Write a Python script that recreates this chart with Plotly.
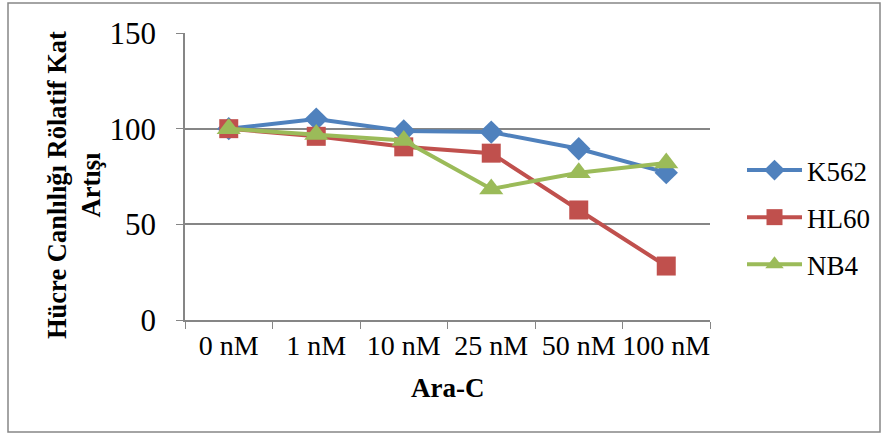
import plotly.graph_objects as go

categories = ["0 nM", "1 nM", "10 nM", "25 nM", "50 nM", "100 nM"]
k562 = [100, 105, 98.8, 98.2, 89.5, 77]
hl60 = [100, 96, 90.5, 87.2, 57.5, 28.2]
nb4 = [100, 97, 93.8, 68.5, 77, 82]
y_ticks = [0, 50, 100, 150]

FONT = "Liberation Serif"
fig = go.Figure()
fig.add_trace(go.Scatter(x=categories, y=k562, name="K562", mode="lines+markers", legendgroup="a",
                         line=dict(color="#4F81BD", width=4),
                         marker=dict(symbol="diamond", size=18, color="#4F81BD")))
fig.add_trace(go.Scatter(x=categories, y=hl60, name="HL60", mode="lines+markers", legendgroup="b",
                         line=dict(color="#C0504D", width=4),
                         marker=dict(symbol="square", size=19, color="#C0504D")))
fig.add_trace(go.Scatter(x=categories, y=nb4, name="NB4", mode="lines+markers", legendgroup="c",
                         line=dict(color="#9BBB59", width=4),
                         marker=dict(symbol="triangle-up", size=21, color="#9BBB59")))

L, R, T, B = 185, 177, 33, 119
W, H = 887, 439
pw, ph = W - L - R, H - T - B

def px(x):
    return (x - L) / pw

def py(y):
    return (H - B - y) / ph

fig.update_layout(
    width=W, height=H,
    margin=dict(l=L, r=R, t=T, b=B),
    paper_bgcolor="white", plot_bgcolor="white",
    font=dict(family=FONT, color="black"),
    showlegend=True,
    legend=dict(x=px(742), y=py(146), xanchor="left", yanchor="top",
                font=dict(size=27, family=FONT), bgcolor="rgba(0,0,0,0)",
                tracegroupgap=9, itemwidth=55),
    xaxis=dict(
        type="category", showgrid=False, showline=True, linecolor="#868686", linewidth=1.5,
        ticks="outside", tickson="boundaries", ticklen=7, tickcolor="#868686", tickangle=0,
        tickfont=dict(size=28, family=FONT), range=[-0.5, 5.5],
    ),
    yaxis=dict(
        range=[0, 150], tickvals=y_ticks, showgrid=True, gridcolor="#868686", gridwidth=1.5,
        showline=True, linecolor="#868686", linewidth=1.5, ticks="outside", ticklen=7,
        tickcolor="#868686", tickfont=dict(size=31, family=FONT), ticklabelstandoff=14,
        zeroline=False,
    ),
    shapes=[dict(type="rect", xref="paper", yref="paper",
                 x0=px(8), x1=px(880), y0=py(432), y1=py(3),
                 line=dict(color="#868686", width=1.5), fillcolor="rgba(0,0,0,0)", layer="below")],
    annotations=[
        dict(text="<b>Hücre Canlılığı Rölatif Kat<br>Artışı</b>", textangle=-90,
             xref="paper", yref="paper", x=px(74), y=py(185), xanchor="center", yanchor="middle",
             showarrow=False, font=dict(size=26.5, family=FONT)),
        dict(text="<b>Ara-C</b>", xref="paper", yref="paper", x=0.5, y=py(388),
             xanchor="center", yanchor="middle", showarrow=False, font=dict(size=27, family=FONT)),
    ],
)

fig.write_html("out.html")
